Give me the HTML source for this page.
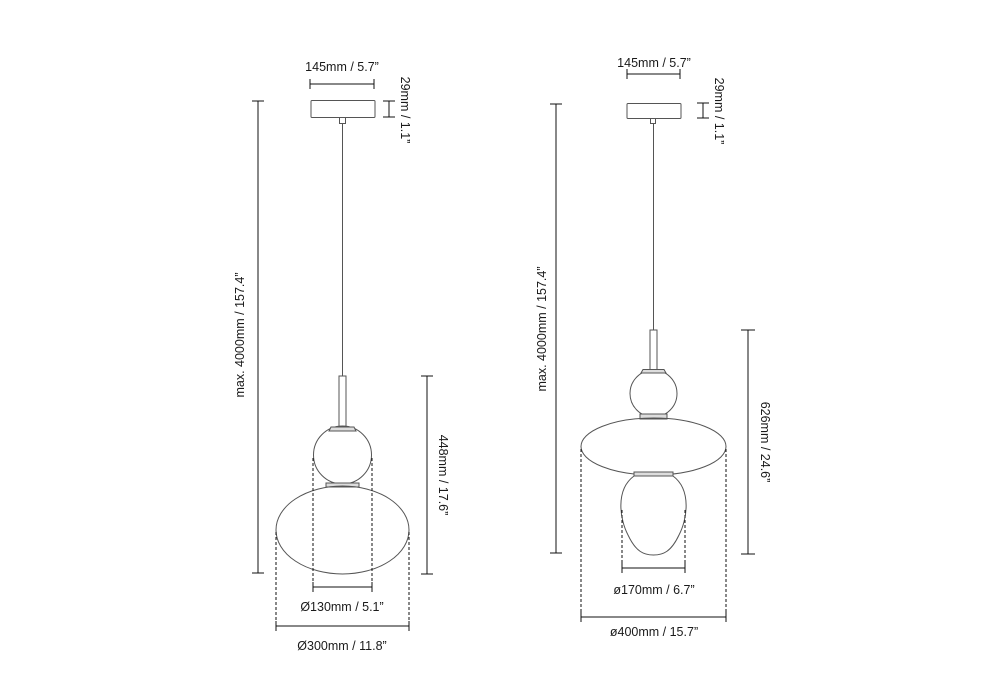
<!DOCTYPE html>
<html><head><meta charset="utf-8"><style>html,body{margin:0;padding:0;background:#fff}svg{display:block}</style></head>
<body>
<svg width="1000" height="700" viewBox="0 0 1000 700" xmlns="http://www.w3.org/2000/svg" font-family="Liberation Sans, sans-serif" font-size="12.5" fill="#1a1a1a">
<g stroke="#555" stroke-width="1" fill="none">
<rect x="311" y="100.5" width="64" height="17" rx="1"/>
<rect x="339.5" y="117.5" width="6" height="6"/>
<line x1="342.5" y1="124" x2="342.5" y2="376"/>
<rect x="339" y="376" width="7" height="51"/>
<circle cx="342.5" cy="455" r="29"/>
<path d="M329 431 L356 431 L354 427 L331 427 Z" fill="#ddd"/>
<path d="M326 483 L359 483 L359 487 L326 487 Z" fill="#ddd"/>
<ellipse cx="342.5" cy="530" rx="66.5" ry="44"/>
<rect x="627" y="103.5" width="54" height="15" rx="1"/>
<rect x="650.5" y="118.5" width="5" height="5"/>
<line x1="653.5" y1="124" x2="653.5" y2="330"/>
<rect x="650" y="330" width="7" height="40"/>
<circle cx="653.5" cy="393.5" r="23.5"/>
<path d="M641 373 L666 373 L664 369.5 L643 369.5 Z" fill="#ddd"/>
<path d="M640 414 L667 414 L667 419 L640 419 Z" fill="#ddd"/>
<ellipse cx="653.5" cy="446.5" rx="72.5" ry="28.5"/>
<path d="M634 472 L673 472 L673 476 L634 476 Z" fill="#ddd"/>
<path d="M634 476 C 615 490, 620 520, 628 535 C 636 552, 644 555, 653.5 555 C 663 555, 671 552, 679 535 C 687 520, 692 490, 673 476 Z"/>
</g>
<g stroke="#111" stroke-width="1" fill="none">
<path d="M310 84 H374 M310 79 V89 M374 79 V89"/>
<path d="M383 101 H395 M383 117 H395 M389 101 V117"/>
<path d="M252 101 H264 M252 573 H264 M258 101 V573"/>
<path d="M421 376 H433 M421 574 H433 M427 376 V574"/>
<path d="M313 587 H372 M313 582 V592 M372 582 V592"/>
<path d="M276 626 H409 M276 621 V631 M409 621 V631"/>
<g stroke-dasharray="3,2"><path d="M313 458 V587 M372 458 V587 M276 532 V626 M409 532 V626"/></g>
<path d="M627 74 H680 M627 69 V79 M680 69 V79"/>
<path d="M697 103 H709 M697 118 H709 M703 103 V118"/>
<path d="M550 104 H562 M550 553 H562 M556 104 V553"/>
<path d="M741 330 H755 M741 554 H755 M748 330 V554"/>
<path d="M622 568 H685 M622 563 V573 M685 563 V573"/>
<path d="M581 617 H726 M581 612 V622 M726 612 V622"/>
<g stroke-dasharray="3,2"><path d="M622 510 V568 M685 510 V568 M581 449 V617 M726 449 V617"/></g>
</g>
<g text-anchor="middle">
<text x="342" y="71">145mm / 5.7”</text>
<text x="342" y="611">Ø130mm / 5.1”</text>
<text x="342" y="650">Ø300mm / 11.8”</text>
<text transform="translate(401,110) rotate(90)">29mm / 1.1”</text>
<text transform="translate(244,335) rotate(-90)">max. 4000mm / 157.4”</text>
<text transform="translate(439,475) rotate(90)">448mm / 17.6”</text>
<text x="654" y="67">145mm / 5.7”</text>
<text x="654" y="594">ø170mm / 6.7”</text>
<text x="654" y="636">ø400mm / 15.7”</text>
<text transform="translate(715,111) rotate(90)">29mm / 1.1”</text>
<text transform="translate(546,329) rotate(-90)">max. 4000mm / 157.4”</text>
<text transform="translate(761,442) rotate(90)">626mm / 24.6”</text>
</g>
</svg>
</body></html>
